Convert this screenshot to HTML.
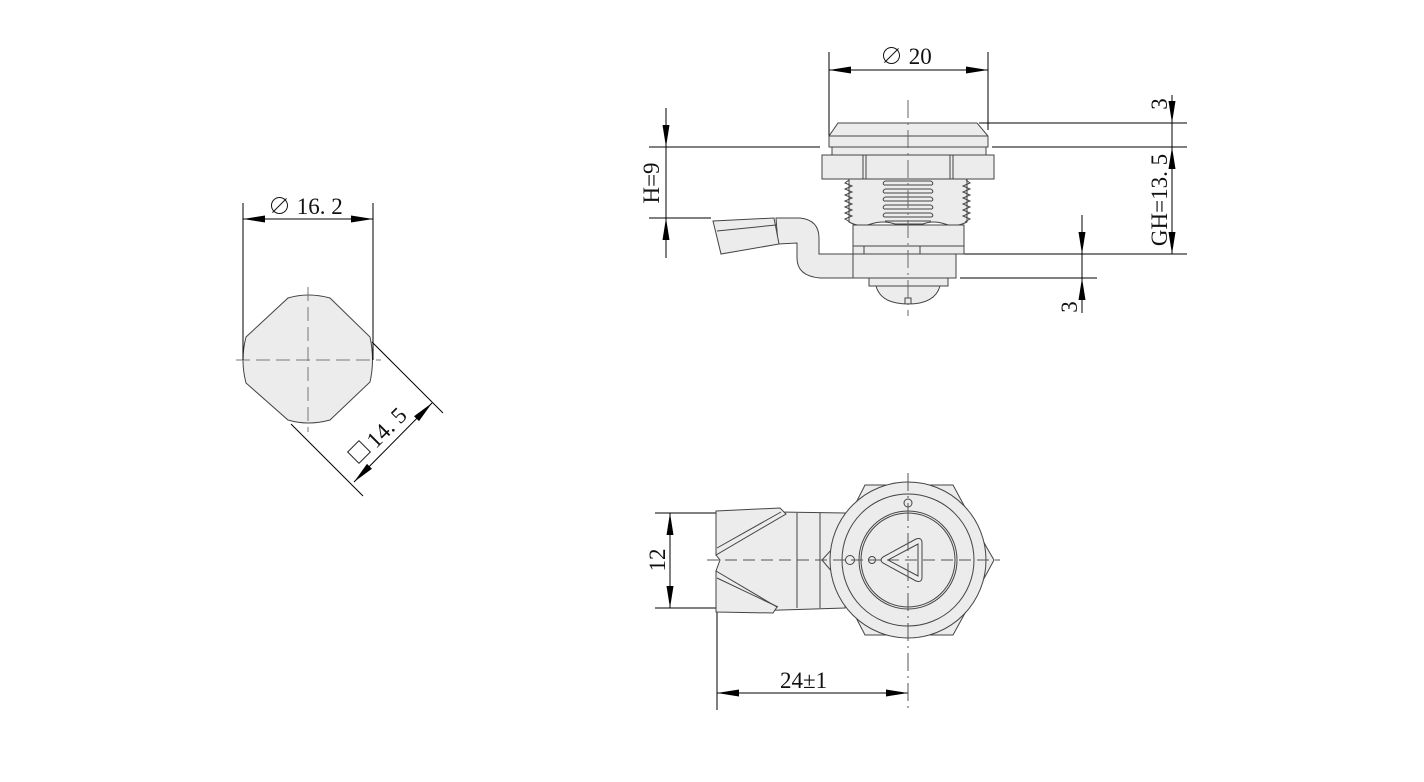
<!DOCTYPE html>
<html><head><meta charset="utf-8"><style>
html,body{margin:0;padding:0;background:#fff;}
svg{display:block}
text{font-family:"Liberation Serif","Noto Serif CJK SC",serif;fill:#111}
</style></head><body>
<svg width="1424" height="782" viewBox="0 0 1424 782" xmlns="http://www.w3.org/2000/svg">
<defs>
<marker id="a" markerUnits="userSpaceOnUse" viewBox="0 0 22 7" markerWidth="22" markerHeight="7" refX="22" refY="3.5" orient="auto-start-reverse"><path d="M0,0 L22,3.5 L0,7 z" fill="#000"/></marker>
</defs>
<g stroke="#000" stroke-width="1" fill="none">

<!-- ===== LEFT VIEW ===== -->
<path d="M288,298 Q308,292 330,298 L370,337 Q375,360 370,382 L330,420 Q308,426 288,420 L246,383 Q240,360 246,337 Z" fill="#ececec" stroke="#444"/>
<line x1="236" y1="360" x2="381" y2="360" stroke="#777" stroke-dasharray="14,6"/>
<line x1="308" y1="287" x2="308" y2="432" stroke="#777" stroke-dasharray="14,6"/>
<line x1="243" y1="203" x2="243" y2="360"/>
<line x1="373" y1="203" x2="373" y2="360"/>
<line x1="243" y1="219" x2="373" y2="219" marker-start="url(#a)" marker-end="url(#a)"/>
<line x1="372" y1="342" x2="443" y2="413"/>
<line x1="291" y1="424" x2="363" y2="496"/>
<line x1="432" y1="403" x2="354" y2="482" marker-start="url(#a)" marker-end="url(#a)"/>
<rect x="351" y="444" width="16" height="16" transform="rotate(-45 359 452)" stroke="#222"/>

<!-- ===== TOP VIEW ===== -->
<line x1="829" y1="52" x2="829" y2="140"/>
<line x1="988" y1="52" x2="988" y2="130"/>
<line x1="829" y1="70" x2="988" y2="70" marker-start="url(#a)" marker-end="url(#a)"/>
<line x1="649" y1="147" x2="820" y2="147"/>
<line x1="649" y1="218" x2="711" y2="218"/>
<line x1="666" y1="108" x2="666" y2="147" marker-end="url(#a)"/>
<line x1="666" y1="258" x2="666" y2="218" marker-end="url(#a)"/>
<line x1="666" y1="147" x2="666" y2="218"/>
<line x1="979" y1="123" x2="1187" y2="123"/>
<line x1="992" y1="147" x2="1187" y2="147"/>
<line x1="962" y1="254" x2="1187" y2="254"/>
<line x1="1172" y1="95" x2="1172" y2="123" marker-end="url(#a)"/>
<line x1="1172" y1="123" x2="1172" y2="147"/>
<line x1="1172" y1="200" x2="1172" y2="147" marker-end="url(#a)"/>
<line x1="1172" y1="200" x2="1172" y2="254" marker-end="url(#a)"/>
<line x1="960" y1="278" x2="1097" y2="278"/>
<line x1="1082" y1="215" x2="1082" y2="254" marker-end="url(#a)"/>
<line x1="1082" y1="254" x2="1082" y2="278"/>
<line x1="1082" y1="313" x2="1082" y2="278" marker-end="url(#a)"/>

<g fill="#ececec" stroke="#444">
<path d="M776,218 L800,218 Q819,220 819,238 L819,254 L853,254 L853,278 L820,278 Q797,276 797,258 L797,243 L778,244 Z"/>
<path d="M713,221 L774,218 L779,244 L721,254 Z"/>
<line x1="717" y1="231" x2="776" y2="225"/>
<path d="M838,123 L977,123 L988,136 L988,147 L829,147 L829,136 Z"/>
<line x1="829" y1="136" x2="988" y2="136"/>
<rect x="832" y="147" width="154" height="8"/>
<rect x="822" y="155" width="172" height="24"/>
<line x1="863" y1="155" x2="863" y2="179"/><line x1="866" y1="155" x2="866" y2="179"/>
<line x1="950" y1="155" x2="950" y2="179"/><line x1="953" y1="155" x2="953" y2="179"/>
<path d="M849,179 L967,179 L967,222 Q955,228 945,224 Q933,220 923,224 L895,224 Q883,220 871,224 Q860,228 849,222 Z"/>
<rect x="853" y="225" width="111" height="29"/>
<line x1="853" y1="246" x2="964" y2="246"/>
<rect x="853" y="246" width="11" height="8"/>
<line x1="920" y1="246" x2="920" y2="254"/>
<rect x="853" y="254" width="103" height="24"/>
<rect x="869" y="278" width="79" height="8"/>
<path d="M876,286 L940,286 Q935,304 908,304 Q881,304 876,286 Z"/>
</g>
<path d="M905,304 L905,298 L911,298 L911,304" stroke="#444"/>
<path d="M849,180 L845,183 L852,186 L845,189 L852,192 L845,195 L852,198 L845,201 L852,204 L845,207 L852,210 L845,213 L852,216 L845,219 L850,222" stroke="#444"/>
<path d="M966,180 L970,183 L963,186 L970,189 L963,192 L970,195 L963,198 L970,201 L963,204 L970,207 L963,210 L970,213 L963,216 L970,219 L965,222" stroke="#444"/>
<g stroke="#444">
<path d="M885,181h46M884,185h48M885,189h46M884,193h48M885,197h46M884,201h48M885,205h46M884,209h48M885,213h46M884,217h48M885,221h46"/>
<path d="M884,185q-2,-2 1,-4M884,193q-2,-2 1,-4M884,201q-2,-2 1,-4M884,209q-2,-2 1,-4M884,217q-2,-2 1,-4M932,185q2,-2 -1,-4M932,193q2,-2 -1,-4M932,201q2,-2 -1,-4M932,209q2,-2 -1,-4M932,217q2,-2 -1,-4"/>
</g>
<line x1="908" y1="100" x2="908" y2="316" stroke="#666" stroke-dasharray="18,5,2,5"/>

<!-- ===== BOTTOM VIEW ===== -->
<line x1="655" y1="513" x2="717" y2="513"/>
<line x1="655" y1="608" x2="717" y2="608"/>
<line x1="670" y1="513" x2="670" y2="608" marker-start="url(#a)" marker-end="url(#a)"/>
<line x1="717" y1="608" x2="717" y2="710"/>
<line x1="717" y1="693" x2="908" y2="693" marker-start="url(#a)" marker-end="url(#a)"/>
<g fill="#ececec" stroke="#444">
<path d="M716,511 L845,513 L845,608 L716,612 L716,571 L720,560 L716,555 Z"/>
<line x1="797" y1="513" x2="797" y2="608"/>
<line x1="820" y1="513" x2="820" y2="608"/>
<path d="M716,511 L780,508 L786,514 L716,555 Z"/>
<line x1="717" y1="548" x2="781" y2="512"/>
<path d="M716,571 L777,607 L773,613 L716,612 Z"/>
<line x1="717" y1="578" x2="778" y2="607"/>
<path d="M865,485 L953,485 L987,548 L994,560 L987,573 L953,635 L865,635 L833,573 L822,560 L833,548 Z"/>
<circle cx="908" cy="560" r="78"/>
<circle cx="908" cy="560" r="66"/>
<circle cx="908" cy="560" r="49"/>
<circle cx="908" cy="560" r="47"/>
<circle cx="908" cy="503" r="4"/>
<circle cx="850" cy="560" r="4.5"/>
<circle cx="872" cy="560" r="3.5"/>
<path d="M883,557 L916,539 Q922,537 922,543 L922,577 Q922,583 916,581 L883,563 Q879,560 883,557 Z"/>
<path d="M888,560 L918,544 L918,576 Z" fill="none"/>
</g>
<line x1="707" y1="560" x2="1000" y2="560" stroke="#555" stroke-dasharray="12,6"/>
<line x1="908" y1="473" x2="908" y2="710" stroke="#555" stroke-dasharray="18,5,2,5"/>
</g>

<g font-size="23">
<text x="268" y="214">∅ 16. 2</text>
<text x="880" y="64">∅ 20</text>
<text x="780" y="688">24±1</text>
<text transform="translate(665,560) rotate(-90)" text-anchor="middle">12</text>
<text transform="translate(659,183) rotate(-90)" text-anchor="middle">H=9</text>
<text transform="translate(1167,104) rotate(-90)" text-anchor="middle">3</text>
<text transform="translate(1167,200) rotate(-90)" text-anchor="middle">GH=13. 5</text>
<text transform="translate(1077,307) rotate(-90)" text-anchor="middle">3</text>
<text transform="translate(392,433) rotate(-45)" text-anchor="middle">14. 5</text>
</g>
</svg>
</body></html>
